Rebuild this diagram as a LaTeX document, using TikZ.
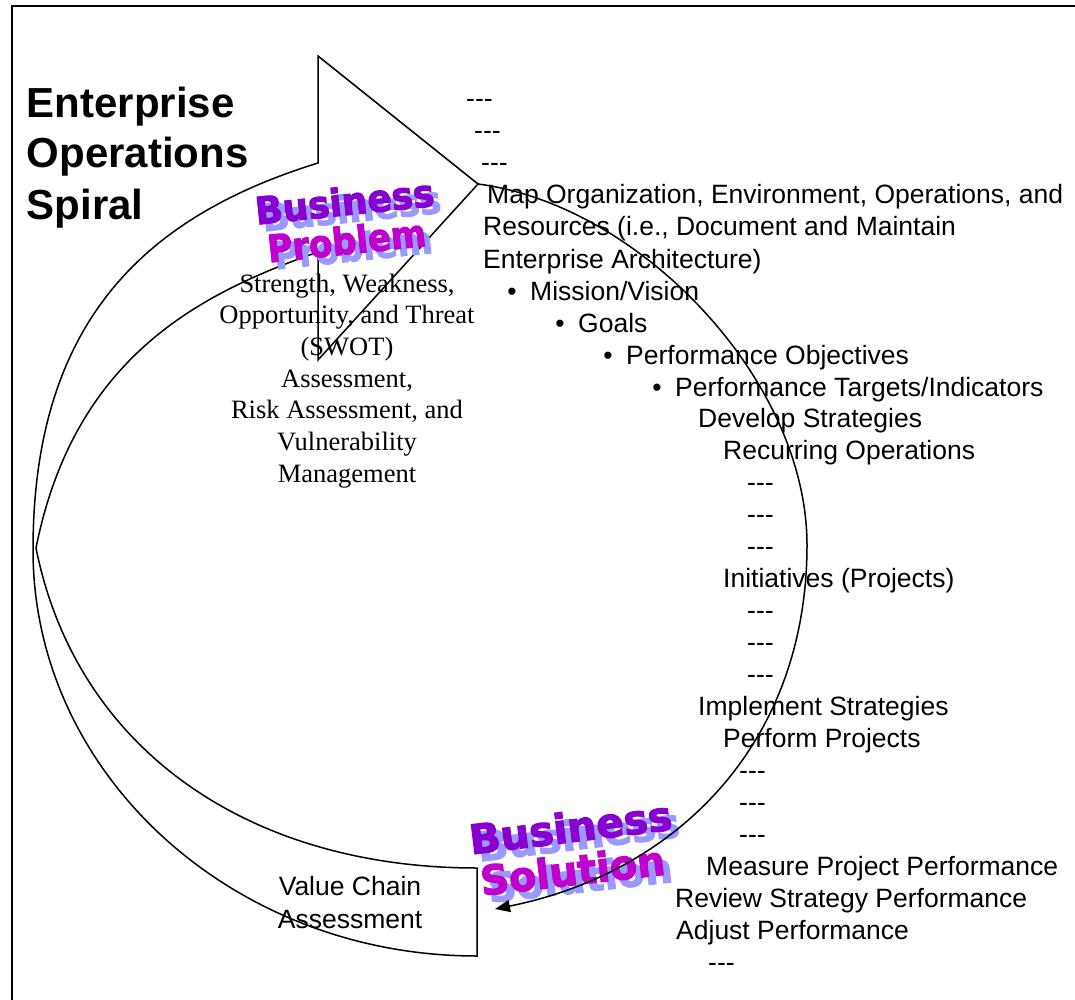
\documentclass[tikz,border=0pt]{standalone}
\usepackage{fontspec}
\setmainfont{Liberation Sans}
\newfontfamily\sansf{Liberation Sans}
\newfontfamily\serf{Liberation Serif}
\newfontfamily\waf{DejaVu Sans}[BoldFeatures={FakeBold=3}]
\usetikzlibrary{arrows.meta}
\definecolor{wapurple}{HTML}{8800D0}
\definecolor{wamagenta}{HTML}{C000CC}
\definecolor{washadow}{HTML}{9999FF}
\newcommand\dsh{-\kern0pt-\kern0pt-}
\newcommand\waword[2]{\rlap{\kern5pt\raisebox{-6pt}{\color{washadow}#2}}{\color{#1}#2}}
\begin{document}
\begin{tikzpicture}[x=1pt,y=-1pt,
  body/.style={inner sep=0pt, anchor=base west, font=\sansf\fontsize{26.5}{32}\selectfont},
  bul/.style={inner sep=0pt, anchor=base, font=\sansf\fontsize{26.5}{32}\selectfont},
  serifline/.style={inner sep=0pt, anchor=base, font=\serf\fontsize{26.5}{32}\selectfont},
  titleline/.style={inner sep=0pt, anchor=base west, font=\sansf\bfseries\fontsize{42}{50}\selectfont},
  wa/.style={inner sep=0pt, anchor=center, font=\waf\bfseries\fontsize{30}{30}\selectfont},
  bigarrow/.style={draw=black, line width=1.5pt, line join=miter},
  conn/.style={draw=black, line width=1.5pt, -{Triangle[length=15pt,width=12pt]}},
  frameline/.style={draw=black, line width=2pt}]
\useasboundingbox (0,0) rectangle (1075,1000);
% frame
\draw[frameline] (12,1000) -- (12,6.5) -- (1075,6.5);
% big curved arrow
\draw[bigarrow] (477,868) .. controls (247,868) and (76,748) .. (36,548)
  .. controls (74,358) and (198,294) .. (318,252)
  -- (318,360) -- (478,184) -- (318,56) -- (318,163)
  .. controls (147,216) and (33,320) .. (33,550)
  .. controls (33,774) and (232,956) .. (477,956) -- cycle;
% connector end points
\coordinate (tip) at (478,184);
\coordinate (cright) at (807,545);
\coordinate (solend) at (495,909);
% title
\node[titleline] (t1) at (26.5,118) {Enterprise};
\node[titleline] (t2) at (26.5,168) {Operations};
\node[titleline] (t3) at (26.5,220) {Spiral};
% WordArt: Business Problem
\node[wa, rotate=6, xscale=1.2, yscale=1.25] (bp1) at (345,205) {\waword{wapurple}{Business}};
\node[wa, rotate=6, xscale=1.13, yscale=1.25] (bp2) at (347,244) {\waword{wamagenta}{Problem}};
% serif block
\node[serifline] (s1) at (347,292) {Strength, Weakness,};
\node[serifline] (s2) at (347,323) {Opportunity, and Threat};
\node[serifline] (s3) at (347,355) {(SWOT)};
\node[serifline] (s4) at (347,387) {Assessment,};
\node[serifline] (s5) at (347,418) {Risk Assessment, and};
\node[serifline] (s6) at (347,450) {Vulnerability};
\node[serifline] (s7) at (347,482) {Management};
% value chain
\node[bul] (v1) at (350,895) {Value Chain};
\node[bul] (v2) at (350,928) {Assessment};
% right column
\node[body] (r0) at (466,108) {\dsh};
\node[body] (r1) at (474,140) {\dsh};
\node[body] (r2) at (481,172) {\dsh};
\node[body] (r3) at (487,204) {Map Organization, Environment, Operations, and};
\node[body] (r4) at (483,236) {Resources (i.e., Document and Maintain};
\node[body] (r5) at (483,268) {Enterprise Architecture)};
\node[bul] (b6) at (512,300) {•};
\node[body] (r6) at (530,300) {Mission/Vision};
\node[bul] (b7) at (560,332) {•};
\node[body] (r7) at (578,332) {Goals};
\node[bul] (b8) at (608,364) {•};
\node[body] (r8) at (626,364) {Performance Objectives};
\node[bul] (b9) at (657,396) {•};
\node[body] (r9) at (675,396) {Performance Targets/Indicators};
\node[body] (r10) at (698,427.5) {Develop Strategies};
\node[body] (r11) at (723,459.5) {Recurring Operations};
\node[body] (r12) at (747,491.5) {\dsh};
\node[body] (r13) at (747,523.5) {\dsh};
\node[body] (r14) at (747,555.5) {\dsh};
\node[body] (r15) at (723,587.5) {Initiatives (Projects)};
\node[body] (r16) at (747,619.5) {\dsh};
\node[body] (r17) at (747,651.5) {\dsh};
\node[body] (r18) at (747,683.5) {\dsh};
\node[body] (r19) at (698,715.5) {Implement Strategies};
\node[body] (r20) at (723,747) {Perform Projects};
\node[body] (r21) at (739,779) {\dsh};
\node[body] (r22) at (739,811) {\dsh};
\node[body] (r23) at (739,843) {\dsh};
\node[body] (r24) at (706,875) {Measure Project Performance};
\node[body] (r25) at (675,907) {Review Strategy Performance};
\node[body] (r26) at (676,939) {Adjust Performance};
\node[body] (r27) at (708,971) {\dsh};
% WordArt: Business Solution
\node[wa, rotate=7, xscale=1.36, yscale=1.35] (bs1) at (571,831) {\waword{wapurple}{Business}};
\node[wa, rotate=6.5, xscale=1.32, yscale=1.35] (bs2) at (573,874) {\waword{wamagenta}{Solution}};
% connector drawn on top
\draw[conn] (tip) .. controls (640,205) and (807,380) .. (cright)
  .. controls (807,745) and (675,873) .. (solend);
\end{tikzpicture}
\end{document}
